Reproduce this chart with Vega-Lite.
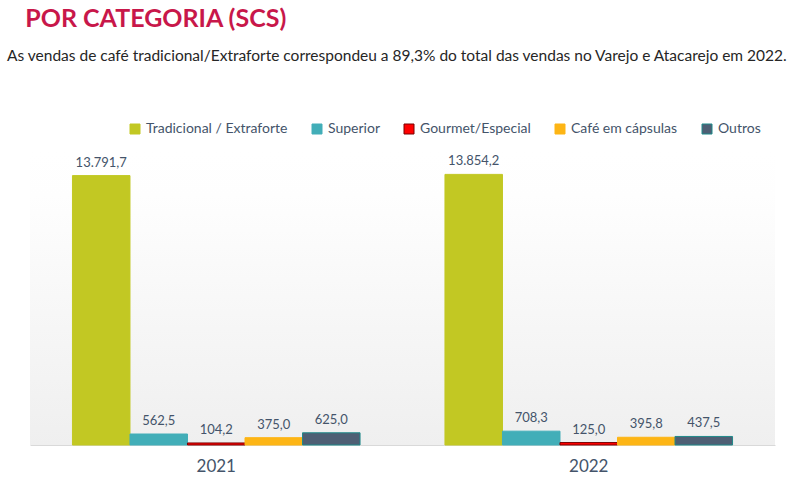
{
  "$schema": "https://vega.github.io/schema/vega-lite/v6.json",
  "autosize": {"type": "none"},
  "width": 745,
  "height": 293,
  "padding": {"left": 30, "top": 152, "right": 27, "bottom": 38},
  "background": "white",
  "config": {
    "font": "Lato",
    "view": {"stroke": null},
    "locale": {"number": {"decimal": ",", "thousands": ".", "grouping": [3], "currency": ["R$", ""]}}
  },
  "title": {
    "text": "\u200B\u00a0\u00a0\u00a0POR CATEGORIA (SCS)",
    "subtitle": "As vendas de café tradicional/Extraforte correspondeu a 89,3% do total das vendas no Varejo e Atacarejo em 2022.",
    "anchor": "start",
    "frame": "group",
    "dx": -23,
    "fontSize": 25,
    "fontWeight": "bold",
    "color": "#C8174A",
    "subtitleFontSize": 15.5,
    "subtitleColor": "#262626",
    "subtitlePadding": 17,
    "offset": 58
  },
  "datasets": {
    "vendas": [
      {"ano": "2021", "categoria": "Tradicional / Extraforte", "valor": 13791.7},
      {"ano": "2021", "categoria": "Superior", "valor": 562.5},
      {"ano": "2021", "categoria": "Gourmet/Especial", "valor": 104.2},
      {"ano": "2021", "categoria": "Café em cápsulas", "valor": 375.0},
      {"ano": "2021", "categoria": "Outros", "valor": 625.0},
      {"ano": "2022", "categoria": "Tradicional / Extraforte", "valor": 13854.2},
      {"ano": "2022", "categoria": "Superior", "valor": 708.3},
      {"ano": "2022", "categoria": "Gourmet/Especial", "valor": 125.0},
      {"ano": "2022", "categoria": "Café em cápsulas", "valor": 395.8},
      {"ano": "2022", "categoria": "Outros", "valor": 437.5}
    ]
  },
  "layer": [
    {
      "data": {"values": [{}]},
      "mark": {
        "type": "rect",
        "fill": {
          "gradient": "linear",
          "x1": 0, "y1": 0, "x2": 0, "y2": 1,
          "stops": [
            {"offset": 0, "color": "#FFFFFF"},
            {"offset": 0.15, "color": "#FEFEFE"},
            {"offset": 1, "color": "#EFEFEF"}
          ]
        }
      },
      "encoding": {
        "x": {"value": 0},
        "x2": {"value": "width"},
        "y": {"value": 0},
        "y2": {"value": "height"}
      }
    },
    {
      "data": {"name": "vendas"},
      "encoding": {
        "x": {
          "field": "ano", "type": "nominal",
          "scale": {"paddingInner": 0.228, "paddingOuter": 0.114},
          "axis": {
            "title": null, "labelAngle": 0, "ticks": false,
            "labelFontSize": 17, "labelColor": "#44546A", "labelPadding": 13,
            "domainColor": "#D9D9D9", "domainWidth": 1
          }
        },
        "xOffset": {
          "field": "categoria", "type": "nominal",
          "sort": ["Tradicional / Extraforte", "Superior", "Gourmet/Especial", "Café em cápsulas", "Outros"],
          "scale": {"paddingInner": 0, "paddingOuter": 0}
        },
        "y": {
          "field": "valor", "type": "quantitative",
          "scale": {"domain": [0, 15000], "nice": false},
          "axis": null
        }
      },
      "layer": [
        {
          "mark": {"type": "bar", "strokeWidth": 1},
          "encoding": {
            "color": {
              "field": "categoria", "type": "nominal",
              "scale": {
                "domain": ["Tradicional / Extraforte", "Superior", "Gourmet/Especial", "Café em cápsulas", "Outros"],
                "range": ["#C2C823", "#42AEB8", "#FF0000", "#FDB515", "#4E5F74"]
              },
              "legend": {
                "title": null, "orient": "none", "legendX": 98, "legendY": -30,
                "direction": "horizontal", "columns": 5,
                "symbolType": "square", "symbolSize": 100, "symbolStrokeWidth": 1,
                "labelFontSize": 14, "labelColor": "#44546A", "columnPadding": 22,
                "labelOffset": 4
              }
            },
            "stroke": {
              "field": "categoria", "type": "nominal",
              "scale": {
                "domain": ["Tradicional / Extraforte", "Superior", "Gourmet/Especial", "Café em cápsulas", "Outros"],
                "range": ["#C2C823", "#42AEB8", "#7A0000", "#FDB515", "#1F8A8A"]
              },
              "legend": {
                "title": null, "orient": "none", "legendX": 98, "legendY": -30,
                "direction": "horizontal", "columns": 5,
                "symbolType": "square", "symbolSize": 100, "symbolStrokeWidth": 1,
                "labelFontSize": 14, "labelColor": "#44546A", "columnPadding": 22,
                "labelOffset": 4
              }
            }
          }
        },
        {
          "mark": {"type": "text", "baseline": "bottom", "dy": -6, "fontSize": 13, "color": "#44546A"},
          "encoding": {
            "text": {"field": "valor", "type": "quantitative", "format": ",.1f"}
          }
        }
      ]
    }
  ]
}
